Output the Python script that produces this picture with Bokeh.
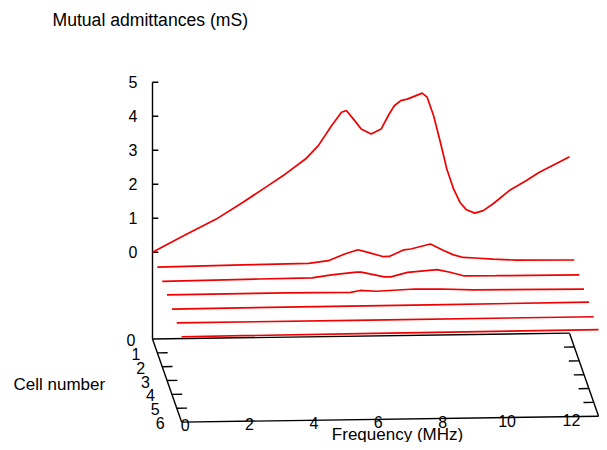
import numpy as np
from bokeh.plotting import figure
from bokeh.models import Range1d
from bokeh.core.properties import value
from bokeh.embed import file_html
from bokeh.resources import INLINE

# ---------------- data ----------------
cell_numbers = [0, 1, 2, 3, 4, 5, 6]
freq_ticks = [0, 2, 4, 6, 8, 10, 12]
adm_ticks = [0, 1, 2, 3, 4, 5]

freq_0 = [0.00, 0.95, 1.98, 2.80, 3.52, 4.13, 4.75, 5.15, 5.56, 5.87, 6.02, 6.28,
          6.48, 6.79, 7.10, 7.35, 7.51, 7.71, 7.91, 8.32, 8.37, 8.53, 8.73, 8.94,
          9.14, 9.35, 9.55, 9.75, 10.01, 10.27, 10.57, 11.08, 11.60, 12.00, 12.62, 12.95]
adm_0 = [0.00, 0.47, 0.95, 1.43, 1.87, 2.25, 2.68, 3.07, 3.65, 4.04, 4.09, 3.79,
         3.54, 3.39, 3.53, 3.97, 4.21, 4.36, 4.40, 4.55, 4.57, 4.45, 3.90, 3.12,
         2.33, 1.74, 1.34, 1.12, 1.02, 1.09, 1.28, 1.67, 1.95, 2.19, 2.48, 2.64]

freq_1 = [0.00, 2.65, 4.70, 5.31, 5.82, 6.23, 6.54, 7.00, 7.20, 7.66, 7.87, 8.48,
          8.89, 9.20, 9.50, 10.00, 10.42, 11.14, 12.95]
adm_1 = [-0.03, 0.00, 0.02, 0.09, 0.28, 0.40, 0.32, 0.19, 0.19, 0.38, 0.40, 0.54,
         0.34, 0.21, 0.13, 0.10, 0.07, 0.03, 0.01]

freq_2 = [0.00, 3.02, 4.65, 5.26, 6.03, 6.18, 6.90, 7.10, 7.62, 8.54, 8.94, 9.36,
          10.38, 12.95]
adm_2 = [-0.04, -0.01, 0.00, 0.08, 0.15, 0.15, 0.00, 0.00, 0.125, 0.19, 0.11, 0.00,
         -0.01, -0.02]

freq_3 = [0.00, 3.70, 5.70, 6.00, 6.50, 7.70, 8.50, 9.50, 12.95]
adm_3 = [-0.03, -0.02, -0.03, 0.02, -0.01, 0.04, 0.03, -0.01, -0.03]

freq_4 = [0.00, 4.00, 8.00, 12.95]
adm_4 = [-0.04, -0.03, -0.02, -0.01]

freq_5 = [0.00, 6.00, 12.95]
adm_5 = [-0.04, -0.035, -0.03]

freq_6 = [0.00, 6.00, 12.95]
adm_6 = [-0.04, -0.02, 0.00]

series = [(freq_0, adm_0), (freq_1, adm_1), (freq_2, adm_2), (freq_3, adm_3),
          (freq_4, adm_4), (freq_5, adm_5), (freq_6, adm_6)]

F_MAX = 12.95
Z_MIN, Z_MAX = -2.55, 5.0
CELL_MAX = 6

# ---------------- projection (picture px) ----------------
X0, Y0 = 152.0, 338.5          # (f=0, cell=0, z=Z_MIN)
AX, AY = 32.2, -0.45           # per MHz
BX, BY = 4.85, 13.85           # per cell
CZ = 34.0                      # per mS


def proj(f, c, z):
    f = np.asarray(f, dtype=float)
    c = np.asarray(c, dtype=float)
    z = np.asarray(z, dtype=float)
    sx = X0 + AX * f + BX * c
    sy = Y0 + AY * f + BY * c - CZ * (z - Z_MIN)
    return sx, sy


W, H = 599, 442
p = figure(width=W, height=H, output_backend="svg", toolbar_location=None,
           x_range=Range1d(0, W), y_range=Range1d(H, 0),
           min_border=0, x_axis_location=None, y_axis_location=None)
p.grid.visible = False
p.outline_line_color = None
p.background_fill_color = "white"

BLACK = "black"
AXW = 1.4

def seg(a, b, width=AXW):
    p.line([a[0], b[0]], [a[1], b[1]], line_color=BLACK, line_width=width)

# floor box
c00 = proj(0, 0, Z_MIN)
cf0 = proj(F_MAX, 0, Z_MIN)
c06 = proj(0, CELL_MAX, Z_MIN)
cf6 = proj(F_MAX, CELL_MAX, Z_MIN)
seg(c00, cf0)
seg(c06, cf6)
seg(c00, c06)
seg(cf0, cf6)
# vertical axis
seg(c00, proj(0, 0, Z_MAX))
# z ticks
for zt in adm_ticks:
    seg(proj(0, 0, zt), proj(0.18, 0, zt))
# cell ticks, both sides
for ct in cell_numbers[1:-1]:
    seg(proj(0, ct, Z_MIN), proj(0.32, ct, Z_MIN))
    seg(proj(F_MAX, ct, Z_MIN), proj(F_MAX - 0.32, ct, Z_MIN))

# curves
for c, (fr, ad) in zip(cell_numbers, series):
    sx, sy = proj(fr, np.full(len(fr), c), ad)
    p.line(sx, sy, line_color="#f00000", line_width=1.7)

FONT = value("Liberation Sans")

# z tick labels
zx, zy = proj(np.zeros(len(adm_ticks)), np.zeros(len(adm_ticks)), adm_ticks)
p.text(x=zx - 15, y=zy, text=[str(t) for t in adm_ticks], text_font=FONT,
       text_font_size=value("16px"), text_align="right", text_baseline="middle",
       text_color=BLACK)

# cell tick labels
cx, cy = proj(np.zeros(len(cell_numbers)), cell_numbers, np.full(len(cell_numbers), Z_MIN))
p.text(x=cx - 21.5, y=cy + 1, text=[str(t) for t in cell_numbers], text_font=FONT,
       text_font_size=value("16px"), text_align="center", text_baseline="middle",
       text_color=BLACK)

# frequency tick labels
fx, fy = proj(freq_ticks, np.full(len(freq_ticks), CELL_MAX), np.full(len(freq_ticks), Z_MIN))
p.text(x=fx + 3.5, y=fy + 3, text=[str(t) for t in freq_ticks], text_font=FONT,
       text_font_size=value("16px"), text_align="center", text_baseline="middle",
       text_color=BLACK)

# titles
p.text(x=[52], y=[19.5], text=["Mutual admittances (mS)"], text_font=FONT,
       text_font_size=value("17.6px"), text_align="left", text_baseline="middle",
       text_color=BLACK)
p.text(x=[13], y=[383.5], text=["Cell number"], text_font=FONT,
       text_font_size=value("17px"), text_align="left", text_baseline="middle",
       text_color=BLACK)
p.text(x=[397], y=[433.5], text=["Frequency (MHz)"], text_font=FONT,
       text_font_size=value("17px"), text_align="center", text_baseline="middle",
       text_color=BLACK)

open("out.html", "w").write(file_html(p, INLINE))
